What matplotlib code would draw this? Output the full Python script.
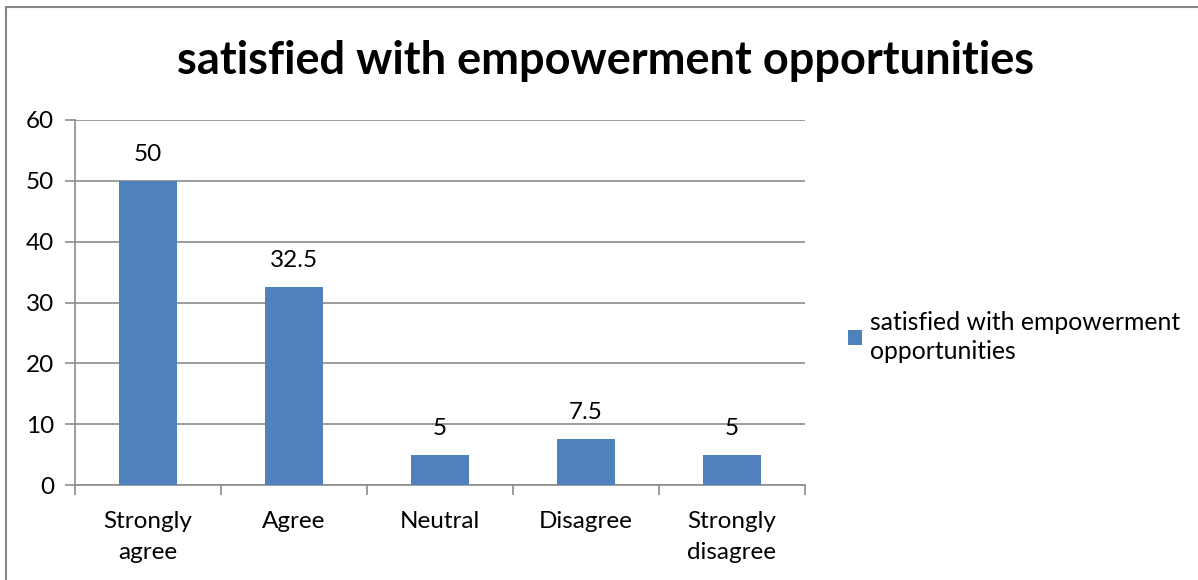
import matplotlib
matplotlib.use("Agg")
import matplotlib.pyplot as plt
from matplotlib.patches import Rectangle

categories = ["Strongly\nagree", "Agree", "Neutral", "Disagree", "Strongly\ndisagree"]
values = [50, 32.5, 5, 7.5, 5]
value_labels = ["50", "32.5", "5", "7.5", "5"]
series_name = "satisfied with empowerment\nopportunities"
title = "satisfied with empowerment opportunities"

W, H = 1198, 580
plt.rcParams['font.family'] = ['Lato', 'DejaVu Sans']
fig = plt.figure(figsize=(W / 100, H / 100), dpi=100)

# outer chart border
fig.patches.append(Rectangle((6 / W, -0.1), 1.2, 1 - 7 / H + 0.1, transform=fig.transFigure,
                             fill=False, edgecolor="#868686", linewidth=1.5))

ax = fig.add_axes([75 / W, 1 - 485 / H, 730 / W, 365 / H])
bar_color = "#4F81BD"
grid_color = "#8C8C8C"
x = list(range(len(categories)))
bars = ax.bar(x, values, width=0.4, color=bar_color, label=series_name, zorder=3)

ax.set_xlim(-0.5, len(categories) - 0.5)
ax.set_ylim(0, 60)
ax.set_yticks(range(0, 61, 10))
ax.yaxis.grid(True, color=grid_color, linewidth=1.2, zorder=0)
ax.set_xticks(x)
ax.set_xticklabels(categories, fontsize=17.5, linespacing=1.55)
ax.set_xticks([i - 0.5 for i in range(len(categories) + 1)], minor=True)
ax.tick_params(axis='x', which='major', length=0, pad=19)
ax.tick_params(axis='x', which='minor', length=7, color=grid_color, width=1.2)
ax.tick_params(axis='y', length=7, color=grid_color, width=1.2, labelsize=17.5, pad=8)
for s in ["top", "right"]:
    ax.spines[s].set_visible(False)
for s in ["left", "bottom"]:
    ax.spines[s].set_color(grid_color)
    ax.spines[s].set_linewidth(1.2)

for xi, v, lab in zip(x, values, value_labels):
    ax.annotate(lab, (xi, v), xytext=(0, 11.5), textcoords="offset points",
                ha="center", va="bottom", fontsize=17.5, color="black", zorder=4)

fig.text(606 / W, 1 - 61 / H, title, ha="center", va="center", fontsize=32.5, fontweight="bold")

leg = ax.legend(loc="center left", bbox_to_anchor=(848 / W, 1 - 337 / H),
                bbox_transform=fig.transFigure, frameon=False, fontsize=17.8,
                handlelength=0.57, handleheight=0.57, handletextpad=0.33,
                borderpad=0, borderaxespad=0)
for t in leg.get_texts():
    t.set_linespacing(1.3)

fig.savefig("out.png", dpi=100)
